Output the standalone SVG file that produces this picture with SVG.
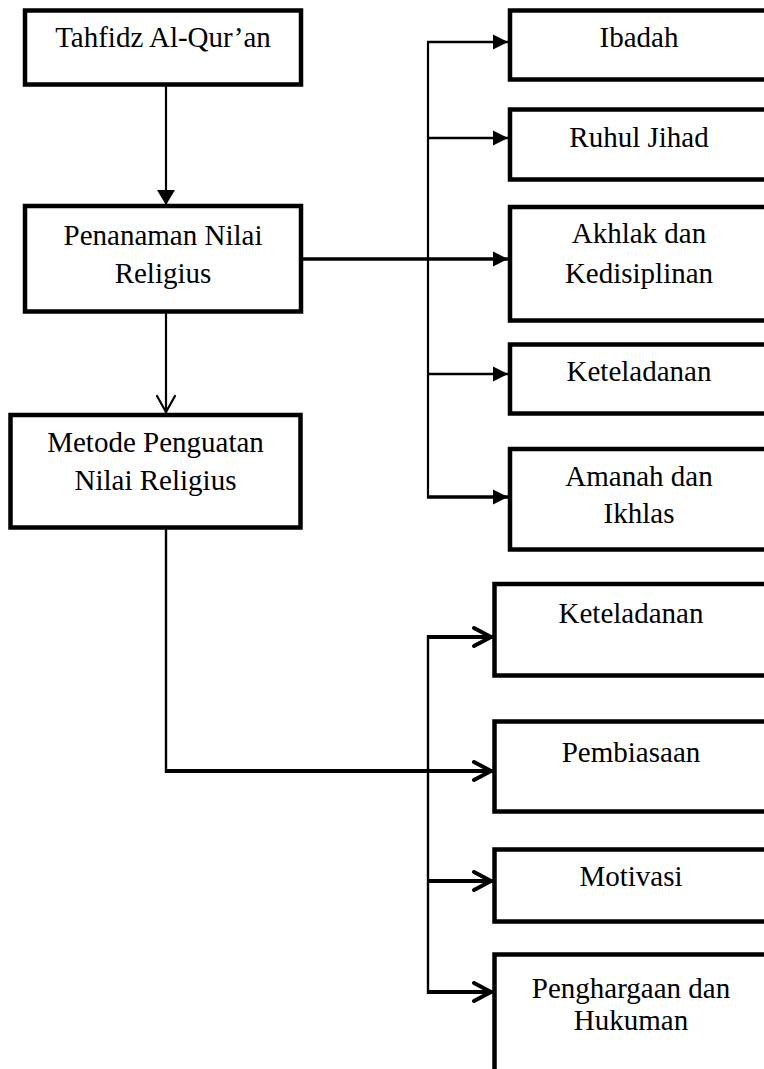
<svg xmlns="http://www.w3.org/2000/svg" width="764" height="1069" viewBox="0 0 764 1069">
<style>
.box{fill:#fff;stroke:#000;stroke-width:4.5}
.t{font-family:"Liberation Serif","Times New Roman",serif;font-size:29px;fill:#000;text-anchor:middle}
.c{fill:none;stroke:#000;stroke-linecap:butt}
</style>
<defs>
<marker id="tri" markerUnits="userSpaceOnUse" orient="auto" refX="0" refY="0" markerWidth="20" markerHeight="20" overflow="visible">
<path d="M-15,-7.5 L0,0 L-15,7.5 Z" fill="#000"/>
</marker>
<marker id="tri2" markerUnits="userSpaceOnUse" orient="auto" refX="0" refY="0" markerWidth="20" markerHeight="20" overflow="visible">
<path d="M-15,-9 L0,0 L-15,9 Z" fill="#000"/>
</marker>
<marker id="vthin" markerUnits="userSpaceOnUse" orient="auto" refX="0" refY="0" markerWidth="20" markerHeight="20" overflow="visible">
<path d="M-17,-9 L-1,0 L-17,9" fill="none" stroke="#000" stroke-width="2.2" stroke-linecap="round" stroke-linejoin="round"/>
</marker>
<marker id="vthick" markerUnits="userSpaceOnUse" orient="auto" refX="0" refY="0" markerWidth="20" markerHeight="20" overflow="visible">
<path d="M-19,-9 L-2,0 L-19,9" fill="none" stroke="#000" stroke-width="4" stroke-linecap="round" stroke-linejoin="round"/>
</marker>
</defs>

<g id="connectors">
<line class="c" x1="166" y1="86" x2="166" y2="205" stroke-width="2.2" marker-end="url(#tri2)"/>
<line class="c" x1="166" y1="313" x2="166" y2="413" stroke-width="2.2" marker-end="url(#vthin)"/>
<line class="c" x1="303" y1="259" x2="508" y2="259" stroke-width="3.5" marker-end="url(#tri)"/>
<line class="c" x1="428" y1="41" x2="428" y2="498" stroke-width="2.2"/>
<line class="c" x1="427" y1="42" x2="508" y2="42" stroke-width="2.5" marker-end="url(#tri)"/>
<line class="c" x1="427" y1="138" x2="508" y2="138" stroke-width="2.5" marker-end="url(#tri)"/>
<line class="c" x1="427" y1="374" x2="508" y2="374" stroke-width="2.5" marker-end="url(#tri)"/>
<line class="c" x1="427" y1="497" x2="508" y2="497" stroke-width="3.5" marker-end="url(#tri)"/>
<line class="c" x1="166" y1="529" x2="166" y2="773" stroke-width="2.4"/>
<line class="c" x1="165" y1="771" x2="493" y2="771" stroke-width="4" marker-end="url(#vthick)"/>
<line class="c" x1="428" y1="635" x2="428" y2="994" stroke-width="2.4"/>
<line class="c" x1="427" y1="637" x2="493" y2="637" stroke-width="4" marker-end="url(#vthick)"/>
<line class="c" x1="427" y1="881" x2="493" y2="881" stroke-width="4" marker-end="url(#vthick)"/>
<line class="c" x1="427" y1="992" x2="493" y2="992" stroke-width="4" marker-end="url(#vthick)"/>
</g>

<g id="n1"><rect class="box" x="25" y="10.5" width="276" height="74"/><text class="t" x="163" y="47">Tahfidz Al-Qur’an</text></g>
<g id="n2"><rect class="box" x="25" y="206" width="276" height="105.5"/><text class="t" x="163" y="245">Penanaman Nilai</text><text class="t" x="163" y="283">Religius</text></g>
<g id="n3"><rect class="box" x="10.5" y="415" width="290" height="112.5"/><text class="t" x="155.5" y="452">Metode Penguatan</text><text class="t" x="155.5" y="490">Nilai Religius</text></g>

<g id="r1"><rect class="box" x="510" y="10.5" width="270" height="69"/><text class="t" x="639" y="47">Ibadah</text></g>
<g id="r2"><rect class="box" x="510" y="109.5" width="270" height="70"/><text class="t" x="639" y="147">Ruhul Jihad</text></g>
<g id="r3"><rect class="box" x="510" y="207" width="270" height="113.5"/><text class="t" x="639" y="243">Akhlak dan</text><text class="t" x="639" y="283">Kedisiplinan</text></g>
<g id="r4"><rect class="box" x="510" y="344.5" width="270" height="69"/><text class="t" x="639" y="381">Keteladanan</text></g>
<g id="r5"><rect class="box" x="510" y="449" width="270" height="100.5"/><text class="t" x="639" y="486">Amanah dan</text><text class="t" x="639" y="523">Ikhlas</text></g>

<g id="m1"><rect class="box" x="494.5" y="584" width="280" height="91.5"/><text class="t" x="631" y="623">Keteladanan</text></g>
<g id="m2"><rect class="box" x="494.5" y="721.5" width="280" height="90"/><text class="t" x="631" y="762">Pembiasaan</text></g>
<g id="m3"><rect class="box" x="494.5" y="849.5" width="280" height="72"/><text class="t" x="631" y="886">Motivasi</text></g>
<g id="m4"><rect class="box" x="494.5" y="954.5" width="280" height="130"/><text class="t" x="631" y="998">Penghargaan dan</text><text class="t" x="631" y="1030">Hukuman</text></g>
</svg>
